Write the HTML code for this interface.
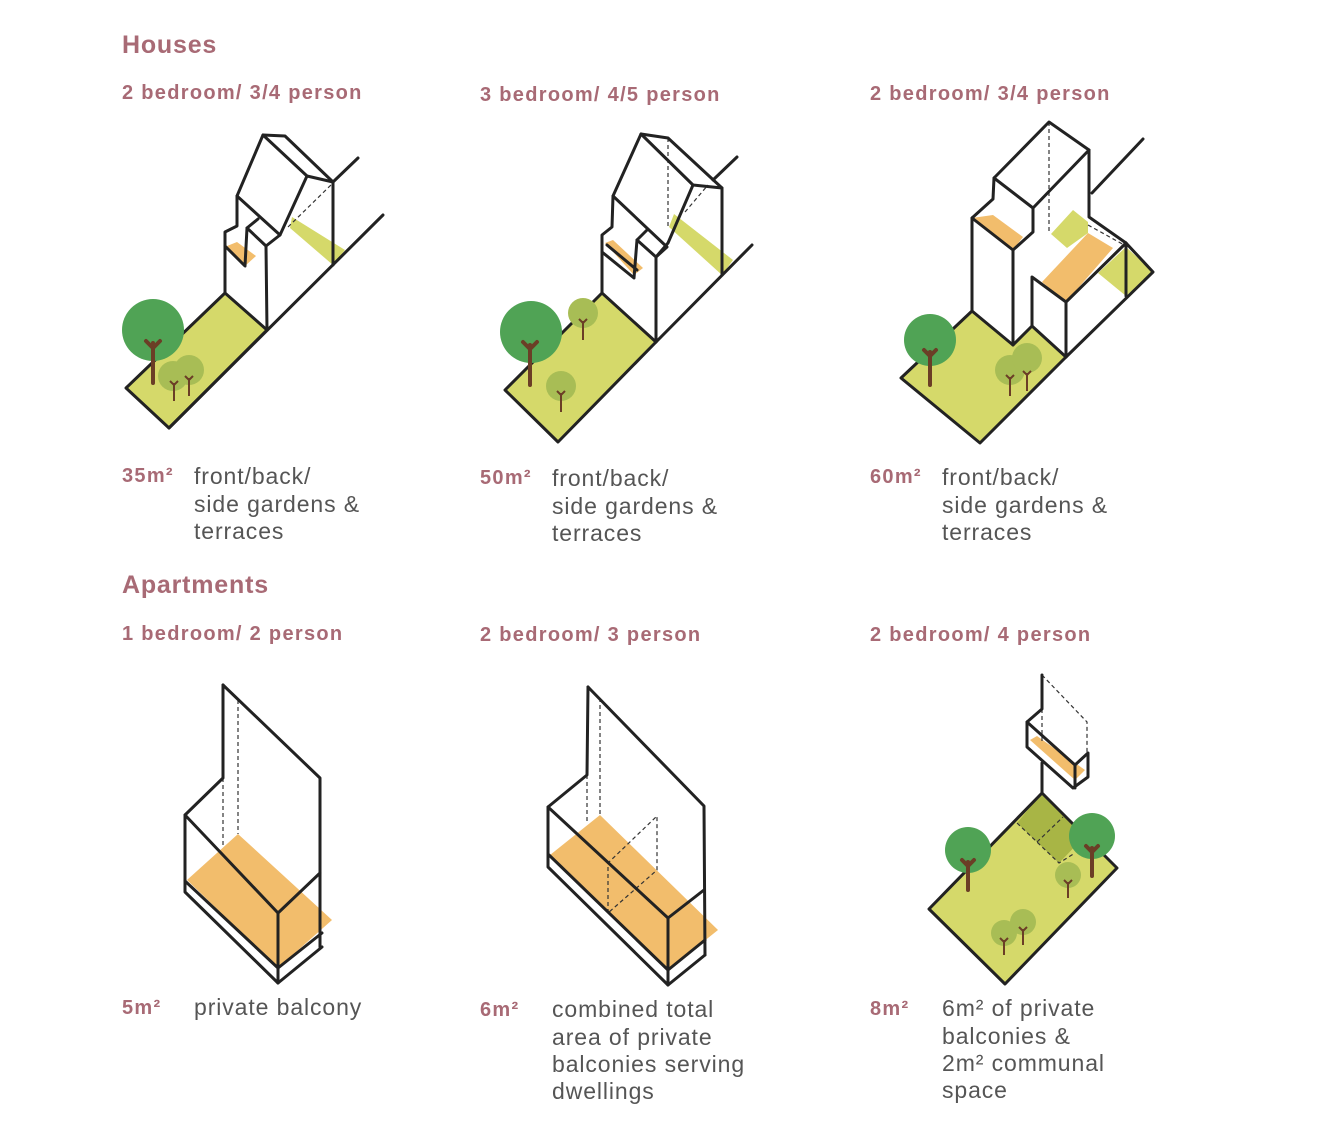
<!DOCTYPE html>
<html><head><meta charset="utf-8"><style>
html,body{margin:0;padding:0;background:#fff;}
svg{display:block}
.h{font-family:"Liberation Sans",sans-serif;font-weight:bold;fill:#a86a75;letter-spacing:1.3px}
.t{font-family:"Liberation Sans",sans-serif;fill:#555;font-size:23px;letter-spacing:0.9px}
.k{fill:none;stroke:#222;stroke-width:3;stroke-linejoin:round;stroke-linecap:round}
.d{fill:none;stroke:#333;stroke-width:1.2;stroke-dasharray:4 3}
</style></head><body>
<svg width="1332" height="1126" viewBox="0 0 1332 1126" xmlns="http://www.w3.org/2000/svg">
<text class="h" x="122" y="53" font-size="25" style="letter-spacing:0.8px">Houses</text>
<text class="h" x="122" y="99" font-size="20">2 bedroom/ 3/4 person</text>
<text class="h" x="480" y="101" font-size="20">3 bedroom/ 4/5 person</text>
<text class="h" x="870" y="100" font-size="20">2 bedroom/ 3/4 person</text>
<text class="h" x="122" y="482" font-size="20">35m²</text>
<text class="h" x="480" y="484" font-size="20">50m²</text>
<text class="h" x="870" y="483" font-size="20">60m²</text>
<text class="t" x="194" y="484">front/back/</text><text class="t" x="194" y="512">side gardens &amp;</text><text class="t" x="194" y="539">terraces</text>
<text class="t" x="552" y="486">front/back/</text><text class="t" x="552" y="514">side gardens &amp;</text><text class="t" x="552" y="541">terraces</text>
<text class="t" x="942" y="485">front/back/</text><text class="t" x="942" y="513">side gardens &amp;</text><text class="t" x="942" y="540">terraces</text>
<text class="h" x="122" y="593" font-size="25" style="letter-spacing:0.8px">Apartments</text>
<text class="h" x="122" y="640" font-size="20">1 bedroom/ 2 person</text>
<text class="h" x="480" y="641" font-size="20">2 bedroom/ 3 person</text>
<text class="h" x="870" y="641" font-size="20">2 bedroom/ 4 person</text>
<text class="h" x="122" y="1014" font-size="20">5m²</text>
<text class="h" x="480" y="1016" font-size="20">6m²</text>
<text class="h" x="870" y="1015" font-size="20">8m²</text>
<text class="t" x="194" y="1015">private balcony</text>
<text class="t" x="552" y="1017">combined total</text><text class="t" x="552" y="1045">area of private</text><text class="t" x="552" y="1072">balconies serving</text><text class="t" x="552" y="1099">dwellings</text>
<text class="t" x="942" y="1016">6m² of private</text><text class="t" x="942" y="1044">balconies &amp;</text><text class="t" x="942" y="1071">2m² communal</text><text class="t" x="942" y="1098">space</text>

<!-- House 1 -->
<polygon points="126,388 225,293 267,330 169,428" fill="#d5d96a"/>
<polygon points="227,246 237,242 256,256 245,266" fill="#f2bd6c"/>
<polygon points="292,217 345,250 333,265 290,228" fill="#d5d96a"/>
<line class="d" x1="288" y1="227" x2="333" y2="183"/>
<polygon class="k" points="126,388 225,293 267,330 169,428"/>
<polyline class="k" points="169,428 383,215"/>
<polyline class="k" points="333,182 358,158"/>
<polyline class="k" points="225,293 225,232 237,226 237,196 263,135 285,136 333,182 333,265"/>
<polyline class="k" points="263,135 307,176 333,182"/>
<polyline class="k" points="307,176 280,235 266,246 267,330"/>
<polyline class="k" points="237,196 280,235"/>
<polyline class="k" points="266,246 247,228 258,219"/>
<polyline class="k" points="247,228 245,266 225,246"/>
<circle cx="153" cy="330" r="31" fill="#50a355"/>
<circle cx="173" cy="376" r="15" fill="#a8bd55"/><circle cx="189" cy="370" r="15" fill="#a8bd55"/>
<g stroke="#6b3e26" stroke-width="4" fill="none" stroke-linecap="round"><path d="M153,383V343M146,341L153,348L160,341"/></g>
<g stroke="#6b3e26" stroke-width="2" fill="none"><path d="M174,401V383M170,381L174,385L178,381M189,396V378M185,376L189,380L193,376"/></g>

<!-- House 2 -->
<polygon points="505,390 602,293 656,342 558,442" fill="#d5d96a"/>
<polygon points="605,243 613,240 643,268 634,275" fill="#f2bd6c"/>
<polygon points="674,214 733,260 722,275 669,227" fill="#d5d96a"/>
<line class="d" x1="668" y1="138" x2="668" y2="227"/>
<line class="d" x1="685" y1="212" x2="708" y2="185"/>
<polygon class="k" points="505,390 602,293 656,342 558,442"/>
<polyline class="k" points="656,342 752,245"/>
<polyline class="k" points="713,180 737,157"/>
<polyline class="k" points="602,293 602,235 612,227 613,196 641,134 668,138 722,188 722,275"/>
<polyline class="k" points="641,134 693,185 722,188"/>
<polyline class="k" points="693,185 668,243 656,257 656,342"/>
<polyline class="k" points="613,196 667,247 656,257"/>
<polyline class="k" points="656,257 637,240 647,230"/>
<polyline class="k" points="637,240 634,278 602,252"/>
<line class="k" x1="607" y1="245" x2="637" y2="270"/>
<circle cx="531" cy="332" r="31" fill="#50a355"/>
<circle cx="583" cy="313" r="15" fill="#a8bd55"/><circle cx="561" cy="386" r="15" fill="#a8bd55"/>
<g stroke="#6b3e26" stroke-width="4" fill="none" stroke-linecap="round"><path d="M530,385V345M523,342L530,349L537,342"/></g>
<g stroke="#6b3e26" stroke-width="2" fill="none"><path d="M583,340V321M579,319L583,323L587,319M561,412V393M557,391L561,395L565,391"/></g>

<!-- House 3 -->
<polygon points="901,378 972,311 1013,345 1032,326 1066,357 980,443" fill="#d5d96a"/>
<polygon points="1098,273 1126,247 1153,272 1126,296" fill="#d5d96a"/>
<polygon points="1051,234 1073,210 1088,222 1088,233 1067,248" fill="#d5d96a"/>
<polygon points="972,218 993,215 1023,237 1013,250" fill="#f2bd6c"/>
<polygon points="1042,282 1088,233 1113,248 1066,302" fill="#f2bd6c"/>
<line class="d" x1="1049" y1="122" x2="1049" y2="233"/>
<line class="d" x1="1088" y1="225" x2="1126" y2="246"/>
<polygon class="k" points="901,378 972,311 1013,345 1032,326 1066,357 980,443"/>
<polyline class="k" points="1066,357 1153,272 1126,243"/>
<line class="k" x1="1092" y1="193" x2="1143" y2="139"/>
<polyline class="k" points="972,311 972,218 993,199 994,178 1049,122 1089,150 1033,208 1033,232 1013,250 1013,345"/>
<polyline class="k" points="994,178 1033,208"/>
<polyline class="k" points="972,218 1013,250"/>
<polyline class="k" points="1089,150 1089,217 1126,243 1126,296"/>
<polyline class="k" points="1032,326 1032,277 1066,302 1066,357"/>
<polyline class="k" points="1066,302 1126,243"/>
<circle cx="930" cy="340" r="26" fill="#50a355"/>
<circle cx="1010" cy="370" r="15" fill="#a8bd55"/><circle cx="1027" cy="358" r="15" fill="#a8bd55"/>
<g stroke="#6b3e26" stroke-width="4" fill="none" stroke-linecap="round"><path d="M930,385V352M924,350L930,356L936,350"/></g>
<g stroke="#6b3e26" stroke-width="2" fill="none"><path d="M1010,396V377M1006,375L1010,379L1014,375M1027,391V373M1023,371L1027,375L1031,371"/></g>

<!-- Apt 1 -->
<polygon points="187,880 238,834 332,920 278,968" fill="#f2bd6c"/>
<line class="d" x1="238" y1="700" x2="238" y2="834"/>
<line class="d" x1="223" y1="778" x2="223" y2="845"/>
<polyline class="k" points="223,685 320,778 320,947"/>
<polyline class="k" points="223,685 223,778 185,815 185,892 278,983 322,947"/>
<polyline class="k" points="185,815 278,913 320,873"/>
<line class="k" x1="278" y1="913" x2="278" y2="983"/>
<polyline class="k" points="185,881 278,968 322,933"/>

<!-- Apt 2 -->
<polygon points="550,855 600,815 718,930 668,970" fill="#f2bd6c"/>
<line class="d" x1="600" y1="698" x2="600" y2="815"/>
<line class="d" x1="587" y1="775" x2="587" y2="823"/>
<polyline class="d" points="608,913 608,863 657,816 657,870 608,913"/>
<polyline class="k" points="588,687 704,806 705,955"/>
<polyline class="k" points="588,687 587,775 548,807 548,867 668,985 705,955"/>
<polyline class="k" points="548,807 668,918 704,890"/>
<line class="k" x1="668" y1="918" x2="668" y2="985"/>
<polyline class="k" points="549,855 668,970 705,940"/>

<!-- Apt 3 -->
<polygon points="1030,740 1037,736 1085,770 1075,780" fill="#f2bd6c"/>
<polyline class="d" points="1042,675 1087,722 1087,753"/>
<line class="d" x1="1042" y1="709" x2="1042" y2="742"/>
<polyline class="k" points="1042,675 1042,709 1027,722 1027,747 1073,788 1088,777 1088,753 1075,765"/>
<polyline class="k" points="1027,722 1075,765 1075,788"/>
<line class="k" x1="1042" y1="763" x2="1042" y2="793"/>
<polygon points="1042,793 1117,868 1005,984 929,909" fill="#d5d96a"/>
<polygon points="1042,793 1017,823 1059,863 1085,836" fill="#a8b545"/>
<polyline class="d" points="1017,823 1059,863 1075,853"/>
<line class="d" x1="1037" y1="842" x2="1063" y2="817"/>
<polygon class="k" points="1042,793 1117,868 1005,984 929,909"/>
<circle cx="968" cy="850" r="23" fill="#50a355"/>
<circle cx="1092" cy="836" r="23" fill="#50a355"/>
<circle cx="1068" cy="875" r="13" fill="#a8bd55"/>
<circle cx="1004" cy="933" r="13" fill="#a8bd55"/><circle cx="1023" cy="922" r="13" fill="#a8bd55"/>
<g stroke="#6b3e26" stroke-width="4" fill="none" stroke-linecap="round"><path d="M968,890V862M962,860L968,866L974,860M1092,876V848M1086,846L1092,852L1098,846"/></g>
<g stroke="#6b3e26" stroke-width="2" fill="none"><path d="M1068,898V882M1064,880L1068,884L1072,880M1004,955V940M1000,938L1004,942L1008,938M1023,945V929M1019,927L1023,931L1027,927"/></g>
</svg>
</body></html>
